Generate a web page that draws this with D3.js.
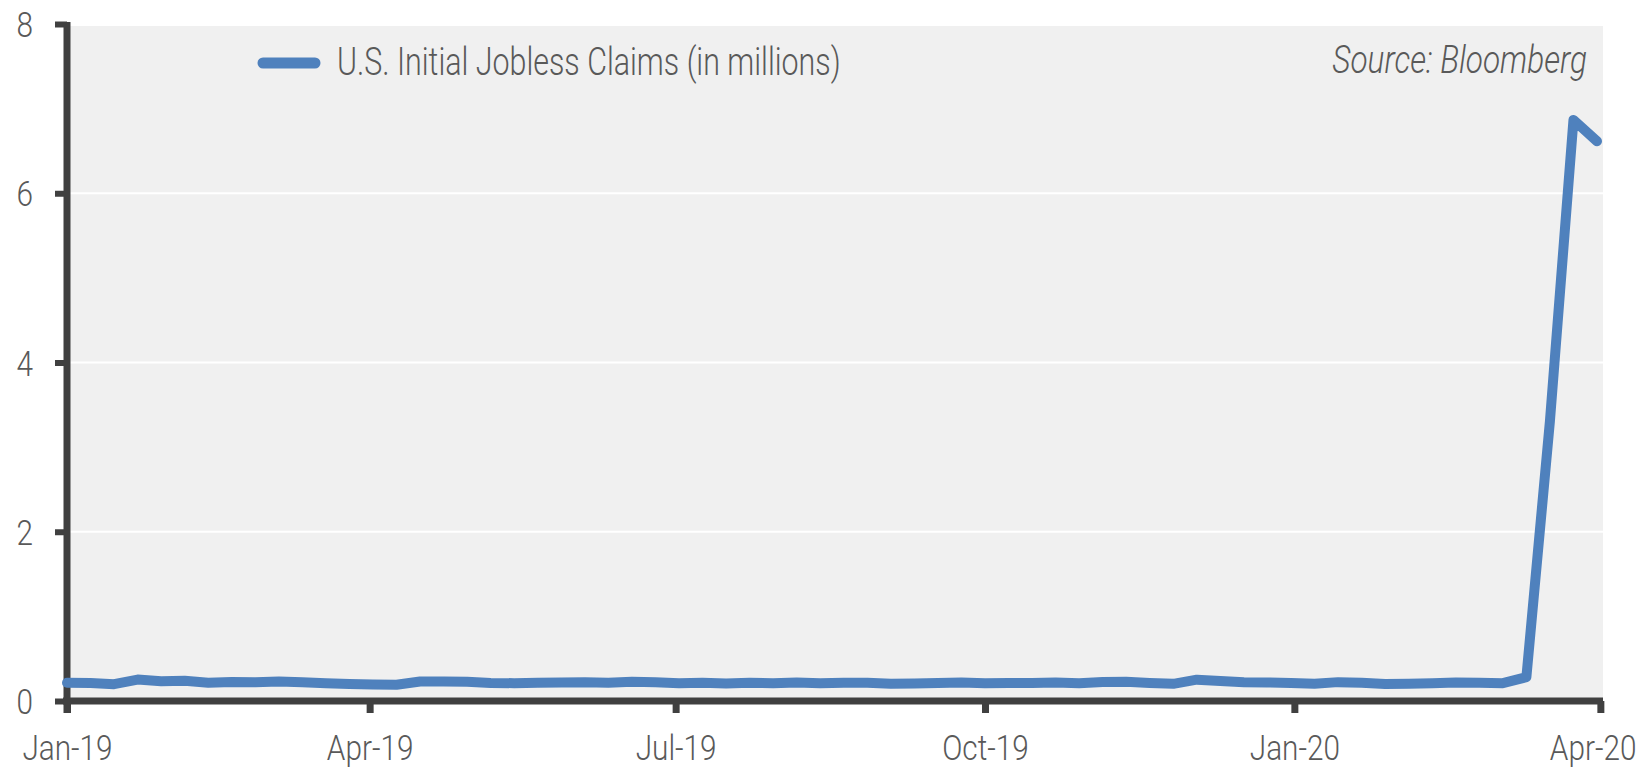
<!DOCTYPE html>
<html>
<head>
<meta charset="utf-8">
<script src="https://cdn.jsdelivr.net/npm/d3@7"></script>
<style>
  body { margin: 0; background: #fff; }
  text { font-family: Roboto, "Liberation Sans", sans-serif; font-weight: 300; fill: #595959; }
</style>
</head>
<body>
<div id="chart"></div>
<script>
// weekly initial jobless claims, in millions (week ending dates)
const startWeek = "2019-01-05";
const claims = [
  0.216, 0.213, 0.199, 0.253, 0.234, 0.239, 0.216, 0.225, 0.223, 0.229,
  0.221, 0.211, 0.202, 0.196, 0.192, 0.230, 0.230, 0.228, 0.212, 0.211,
  0.215, 0.218, 0.222, 0.216, 0.227, 0.221, 0.209, 0.216, 0.206, 0.215,
  0.209, 0.220, 0.209, 0.215, 0.217, 0.204, 0.208, 0.213, 0.219, 0.210,
  0.214, 0.212, 0.218, 0.211, 0.225, 0.227, 0.213, 0.203, 0.252, 0.235,
  0.222, 0.220, 0.214, 0.204, 0.223, 0.216, 0.202, 0.205, 0.210, 0.219,
  0.216, 0.211, 0.282, 3.307, 6.867, 6.615
];
const xTickDates = ["2019-01-05", "2019-04-05", "2019-07-05", "2019-10-05", "2020-01-05", "2020-04-05"];
const yTicks = [0, 2, 4, 6, 8];
const seriesName = "U.S. Initial Jobless Claims (in millions)";
const sourceNote = "Source: Bloomberg";

const W = 1646, H = 768;
const plot = { left: 67, right: 1597, top: 24, bottom: 701, bgRight: 1603 };
const blue = "#4f81bd";
const axisColor = "#404040";

const parse = d3.timeParse("%Y-%m-%d");
const fmt = d3.timeFormat("%b-%y");
const start = parse(startWeek);
const data = claims.map((v, i) => ({ date: d3.timeDay.offset(start, i * 7), value: v }));

const svg = d3.select("#chart").append("svg")
  .attr("width", W).attr("height", H);

const x = d3.scaleTime()
  .domain([data[0].date, data[data.length - 1].date])
  .range([plot.left, plot.right]);
const y = d3.scaleLinear().domain([0, 8]).range([plot.bottom, plot.top]);

// plot background
svg.append("rect")
  .attr("x", plot.left).attr("y", y(8) + 2)
  .attr("width", plot.bgRight - plot.left).attr("height", y(0) - y(8) - 2)
  .attr("fill", "#f0f0f0");

// gridlines
svg.append("g").selectAll("line")
  .data(yTicks.filter(d => d > 0 && d < 8))
  .join("line")
  .attr("x1", plot.left).attr("x2", plot.bgRight)
  .attr("y1", d => y(d)).attr("y2", d => y(d))
  .attr("stroke", "#fff").attr("stroke-width", 2);

// squeeze text horizontally for the condensed look
function condense(sel, k) {
  sel.each(function () {
    const len = this.getComputedTextLength();
    d3.select(this).attr("textLength", len * k).attr("lengthAdjust", "spacingAndGlyphs");
  });
}

// x axis
const xAxis = svg.append("g")
  .attr("transform", `translate(0,${plot.bottom})`)
  .call(d3.axisBottom(x)
    .tickValues(xTickDates.map(parse))
    .tickFormat(fmt)
    .tickSize(12).tickSizeOuter(0).tickPadding(22));
xAxis.select(".domain").remove();
xAxis.append("line")
  .attr("x1", plot.left - 4).attr("x2", plot.bgRight)
  .attr("stroke", axisColor).attr("stroke-width", 7);
xAxis.selectAll(".tick line").attr("stroke", axisColor).attr("stroke-width", 7);
xAxis.selectAll(".tick text")
  .style("font-size", "35px").attr("fill", "#595959").attr("dy", "0.71em")
  .call(condense, 0.85);
// last label sits against the right edge, as in the original
xAxis.selectAll(".tick:last-of-type text")
  .attr("text-anchor", "end").attr("x", 1636 - x(parse(xTickDates[xTickDates.length - 1])));

// y axis
const yAxis = svg.append("g")
  .attr("transform", `translate(${plot.left},0)`)
  .call(d3.axisLeft(y).tickValues(yTicks).tickSize(12).tickSizeOuter(0).tickPadding(22));
yAxis.select(".domain").remove();
yAxis.append("line")
  .attr("y1", plot.top - 2).attr("y2", plot.bottom + 12)
  .attr("stroke", axisColor).attr("stroke-width", 7);
yAxis.selectAll(".tick line").attr("stroke", axisColor).attr("stroke-width", 6);
yAxis.selectAll(".tick text")
  .style("font-size", "35px").attr("fill", "#595959").attr("dy", "0.36em")
  .call(condense, 0.85);

// series line
const line = d3.line().x(d => x(d.date)).y(d => y(d.value));
svg.append("path")
  .datum(data)
  .attr("d", line)
  .attr("fill", "none")
  .attr("stroke", blue)
  .attr("stroke-width", 10)
  .attr("stroke-linejoin", "round")
  .attr("stroke-linecap", "round");

// legend
const legend = svg.append("g");
legend.append("line")
  .attr("x1", 263).attr("x2", 315).attr("y1", 63).attr("y2", 63)
  .attr("stroke", blue).attr("stroke-width", 11).attr("stroke-linecap", "round");
legend.append("text")
  .attr("x", 337).attr("y", 75)
  .style("font-size", "38px")
  .text(seriesName)
  .call(condense, 0.80);

// source note
svg.append("text")
  .attr("x", 1587).attr("y", 73)
  .attr("text-anchor", "end")
  .style("font-size", "38px").style("font-style", "italic")
  .attr("fill", "#404040")
  .text(sourceNote)
  .call(condense, 0.83);
</script>
</body>
</html>
